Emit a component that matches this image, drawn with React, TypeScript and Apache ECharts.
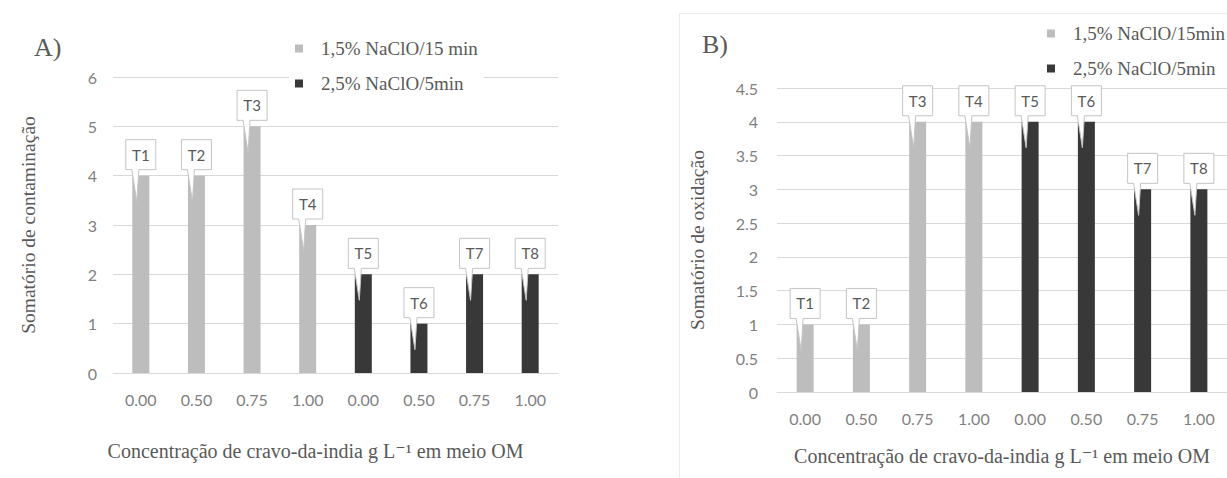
import React, { useEffect, useRef } from "react";
import * as echarts from "echarts";

const treatments = ["T1", "T2", "T3", "T4", "T5", "T6", "T7", "T8"];
const concLabels = ["0.00", "0.50", "0.75", "1.00", "0.00", "0.50", "0.75", "1.00"];

// Panel A – contamination
const contamGray = [4, 4, 5, 3, null, null, null, null];
const contamDark = [null, null, null, null, 2, 1, 2, 2];
// Panel B – oxidation
const oxidGray = [1, 1, 4, 4, null, null, null, null];
const oxidDark = [null, null, null, null, 4, 4, 3, 3];

const nameGrayA = "1,5% NaClO/15 min";
const nameGrayB = "1,5% NaClO/15min";
const nameDark = "2,5% NaClO/5min";

const GRAY = "#bdbdbd";
const DARK = "#383838";
const TXT = "#595959";
const TICK = "#7f7f7f";
const GRIDC = "#d9d9d9";
const SERIF = "'Liberation Serif', 'DejaVu Serif', serif";
const SANS = "Lato, 'Open Sans', sans-serif";

function calloutData(gray: (number | null)[], dark: (number | null)[]) {
  return treatments.map((_, i) => [i, (gray[i] ?? dark[i]) as number]);
}

function calloutRender(params: any, api: any) {
  const pt = api.coord([api.value(0), api.value(1)]);
  const x = pt[0];
  const y = pt[1];
  const w = 30;
  const h = 30;
  const bottom = y - 6;
  const top = bottom - h;
  const left = x - w / 2;
  const right = x + w / 2;
  return {
    type: "group",
    children: [
      {
        type: "polygon",
        shape: {
          points: [
            [left, top],
            [right, top],
            [right, bottom],
            [x - 2, bottom],
            [x - 4, y + 26],
            [x - 9, bottom],
            [left, bottom],
          ],
        },
        style: { fill: "#ffffff", stroke: "#c4c4c4", lineWidth: 1 },
      },
      {
        type: "text",
        x: x,
        y: top + h / 2,
        style: {
          text: treatments[params.dataIndex],
          fill: TXT,
          font: `15px ${SANS}`,
          align: "center",
          verticalAlign: "middle",
        },
      },
    ],
  };
}

export default function App() {
  const ref = useRef<HTMLDivElement>(null);

  useEffect(() => {
    if (!ref.current) return;
    const chart = echarts.init(ref.current, undefined, { renderer: "svg" });

    const xAxisBase = (gridIndex: number, nameGap: number, padRight: number) => ({
      type: "category",
      gridIndex,
      data: treatments,
      axisTick: { show: false },
      axisLine: { show: true, lineStyle: { color: GRIDC, width: 1 } },
      axisLabel: {
        color: TICK,
        fontFamily: SANS,
        fontSize: 16,
        margin: 18,
        formatter: (_v: string, i: number) => concLabels[i],
      },
      name: "Concentração de cravo-da-india g L⁻¹ em meio OM",
      nameLocation: "middle",
      nameGap,
      nameTextStyle: {
        color: TXT,
        fontFamily: SERIF,
        fontSize: 20,
        padding: [0, padRight, 0, 0],
      },
    });

    const yAxisBase = (gridIndex: number, max: number, interval: number, name: string, nameGap: number, margin: number) => ({
      type: "value",
      gridIndex,
      min: 0,
      max,
      interval,
      axisLine: { show: false },
      axisTick: { show: false },
      splitLine: { lineStyle: { color: GRIDC, width: 1 } },
      axisLabel: { color: TICK, fontFamily: SANS, fontSize: 16, margin },
      name,
      nameLocation: "middle",
      nameGap,
      nameRotate: 90,
      nameTextStyle: { color: TXT, fontFamily: SERIF, fontSize: 19.5 },
    });

    const bar = (name: string, data: (number | null)[], color: string, idx: number) => ({
      type: "bar",
      name,
      data,
      xAxisIndex: idx,
      yAxisIndex: idx,
      barWidth: 17,
      barGap: "-100%",
      itemStyle: { color },
    });

    const legendBase = (left: number, top: number, names: string[]) => ({
      orient: "vertical",
      left,
      top,
      data: names,
      icon: "rect",
      itemWidth: 8,
      itemHeight: 8,
      itemGap: 16,
      padding: [4, 6, 4, 6],
      backgroundColor: "#ffffff",
      selectedMode: false,
      textStyle: {
        color: TXT,
        fontFamily: SERIF,
        fontSize: 19,
        padding: [0, 0, 0, 13],
      },
    });

    chart.setOption({
      animation: false,
      backgroundColor: "#ffffff",
      grid: [
        { left: 113, top: 77, width: 445, height: 296 },
        { left: 777, top: 88, width: 456, height: 304 },
      ],
      xAxis: [xAxisBase(0, 68, 40), xAxisBase(1, 54, 0)],
      yAxis: [
        yAxisBase(0, 6, 1, "Somatório de contaminação", 75, 16),
        yAxisBase(1, 4.5, 0.5, "Somatório de oxidação", 70, 19),
      ],
      legend: [
        legendBase(289, 35, [nameGrayA, nameDark]),
        legendBase(1041, 20, [nameGrayB, nameDark]),
      ],
      graphic: [
        {
          type: "rect",
          shape: { x: 679.5, y: 13.5, width: 600, height: 500 },
          style: { fill: "none", stroke: "#ececec", lineWidth: 1 },
          silent: true,
          z: -1,
        },
        {
          type: "text",
          left: 34,
          top: 34,
          style: { text: "A)", fill: TXT, font: `26px ${SERIF}` },
        },
        {
          type: "text",
          left: 702,
          top: 31,
          style: { text: "B)", fill: TXT, font: `26px ${SERIF}` },
        },
      ],
      series: [
        bar(nameGrayA, contamGray, GRAY, 0),
        bar(nameDark, contamDark, DARK, 0),
        {
          type: "custom",
          xAxisIndex: 0,
          yAxisIndex: 0,
          data: calloutData(contamGray, contamDark),
          renderItem: calloutRender,
          clip: false,
          z: 5,
          silent: true,
        },
        bar(nameGrayB, oxidGray, GRAY, 1),
        bar(nameDark, oxidDark, DARK, 1),
        {
          type: "custom",
          xAxisIndex: 1,
          yAxisIndex: 1,
          data: calloutData(oxidGray, oxidDark),
          renderItem: calloutRender,
          clip: false,
          z: 5,
          silent: true,
        },
      ],
    });

    return () => chart.dispose();
  }, []);

  return (
    <div
      ref={ref}
      style={{ position: "fixed", left: 0, top: 0, width: 1227, height: 478, background: "#fff" }}
    />
  );
}
